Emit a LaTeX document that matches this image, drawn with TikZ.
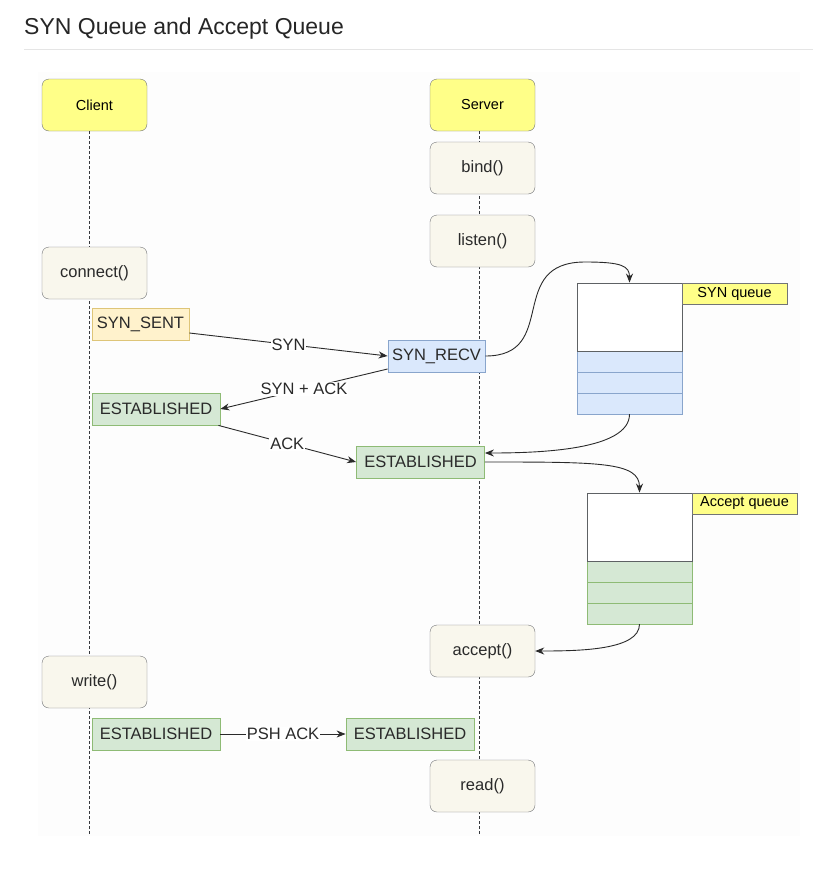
\documentclass[tikz,border=0pt]{standalone}
\usepackage{fontspec}
\setmainfont{Liberation Sans}
\usetikzlibrary{arrows.meta}
\definecolor{lnyel}{HTML}{FFFF88}
\definecolor{lnbord}{HTML}{36393D}
\definecolor{callfill}{HTML}{F9F7ED}
\definecolor{sentfill}{HTML}{FFF2CC}
\definecolor{sentbord}{HTML}{D6B656}
\definecolor{recvfill}{HTML}{DAE8FC}
\definecolor{recvbord}{HTML}{6C8EBF}
\definecolor{estfill}{HTML}{D5E8D4}
\definecolor{estbord}{HTML}{82B366}
\definecolor{txt}{HTML}{2A2A2A}
\begin{document}
\begin{tikzpicture}[x=1pt,y=-1pt,
  font=\fontsize{16.5}{19}\selectfont,
  lifebox/.style={draw=lnbord!70,fill=lnyel,rounded corners=7pt,minimum width=105pt,minimum height=52pt,inner sep=0pt,font=\fontsize{14.5}{17}\selectfont},
  callbox/.style={draw=lnbord!70,fill=callfill,rounded corners=7pt,minimum width=105pt,minimum height=52pt,inner sep=0pt,text=txt},
  statebox/.style={draw,minimum height=32pt,inner sep=0pt,text=txt,line width=0.8pt},
  sentst/.style={statebox,fill=sentfill,draw=sentbord!80,minimum width=97pt},
  recvst/.style={statebox,fill=recvfill,draw=recvbord!80,minimum width=97pt},
  estst/.style={statebox,fill=estfill,draw=estbord!90,minimum width=128pt},
  qlabel/.style={draw=lnbord!70,fill=lnyel,minimum width=105pt,minimum height=21pt,inner sep=0pt,font=\fontsize{14.5}{17}\selectfont},
  qhead/.style={draw=lnbord!80,fill=white,minimum width=105pt,minimum height=68pt,inner sep=0pt,line width=0.9pt},
  qcellb/.style={draw=recvbord!80,fill=recvfill,minimum width=105pt,minimum height=21pt,inner sep=0pt},
  qcellg/.style={draw=estbord!90,fill=estfill,minimum width=105pt,minimum height=21pt,inner sep=0pt},
  life/.style={densely dashed,draw=lnbord,line width=0.9pt},
  msg/.style={draw=txt,line width=0.9pt,-{Stealth[length=9pt,width=7pt]}},
  lbl/.style={fill=white,inner sep=1pt,text=txt}
]
\useasboundingbox (0,0) rectangle (839,873);
\fill[white] (0,0) rectangle (839,873);
% title
\node[anchor=base west,inner sep=0pt,font=\fontsize{23}{26}\selectfont,text=black!85] (title) at (24,34) {SYN Queue and Accept Queue};
\draw[black!10,line width=1pt] (24,49) -- (813,49);
% faint diagram area
\fill[black!0.8] (38,72) rectangle (800,836);

% lifelines
\coordinate (cend) at (89,835);
\coordinate (send) at (479,835);
\node[lifebox] (client) at (94.5,105) {Client};
\node[lifebox] (server) at (482.5,105) {Server};
\draw[life] (89,131) -- (cend);
\draw[life] (479,131) -- (send);

% calls
\node[callbox] (bind) at (482.5,168) {bind()};
\node[callbox] (listen) at (482.5,241) {listen()};
\node[callbox] (connect) at (94.5,273) {connect()};
\node[callbox] (accept) at (482.5,651) {accept()};
\node[callbox] (write) at (94.5,682) {write()};
\node[callbox] (read) at (482.5,786) {read()};

% states
\node[sentst] (sent) at (140.5,324) {SYN\_SENT};
\node[recvst] (recv) at (436.5,356) {SYN\_RECV};
\node[estst] (cest1) at (156,409) {ESTABLISHED};
\node[estst] (sest1) at (420.5,462) {ESTABLISHED};
\node[estst] (cest2) at (156,734) {ESTABLISHED};
\node[estst] (sest2) at (410,734) {ESTABLISHED};

% SYN queue
\node[qcellb] (sq1) at (629.5,361.5) {};
\node[qcellb] (sq2) at (629.5,382.5) {};
\node[qcellb] (sq3) at (629.5,403.5) {};
\node[qhead] (sq) at (629.5,317) {};
\node[qlabel] (sql) at (734.5,293.5) {SYN queue};

% Accept queue
\node[qcellg] (aq1) at (639.5,571.5) {};
\node[qcellg] (aq2) at (639.5,592.5) {};
\node[qcellg] (aq3) at (639.5,613.5) {};
\node[qhead] (aq) at (639.5,527) {};
\node[qlabel] (aql) at (744.5,503.5) {Accept queue};

% messages
\draw[msg] ([yshift=-9pt]sent.east) -- node[lbl,pos=0.5] {SYN} (recv.west);
\draw[msg] ([yshift=-13pt]recv.west) -- node[lbl,pos=0.5] {SYN + ACK} (cest1.east);
\draw[msg] ([xshift=-2pt]cest1.south east) -- node[lbl,pos=0.5] {ACK} (sest1.west);
\draw[msg] (cest2.east) -- node[lbl,pos=0.5] {PSH ACK} (sest2.west);

% queue flows
\draw[msg] (recv.east) .. controls (560,356) and (505,262) .. (585,262)
  .. controls (622,262) and (629.5,266) .. (sq.north);
\draw[msg] (sq3.south) .. controls (629.5,450) and (540,453) .. ([yshift=9pt]sest1.east);
\draw[msg] (sest1.east) .. controls (600,462) and (639.5,462) .. (aq.north);
\draw[msg] (aq3.south) .. controls (639.5,650) and (580,651) .. (accept.east);
\end{tikzpicture}
\end{document}
